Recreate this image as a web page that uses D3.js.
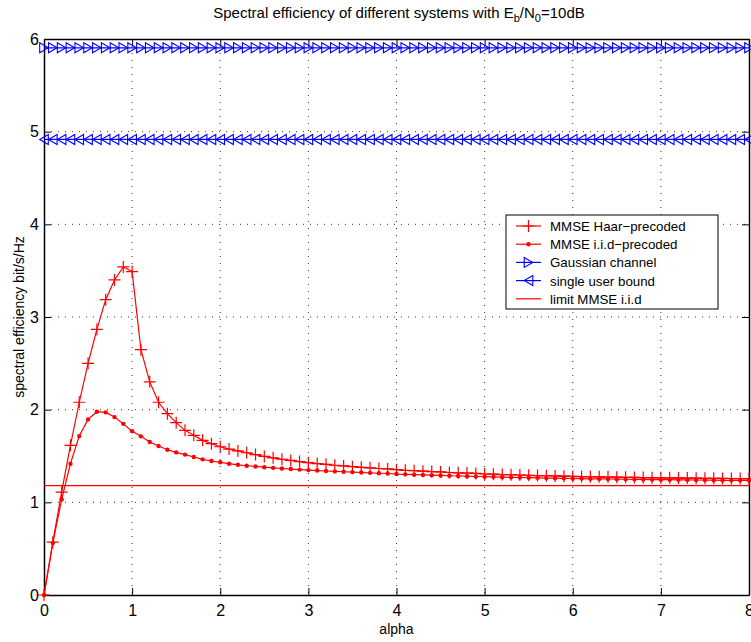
<!DOCTYPE html>
<html><head><meta charset="utf-8">
<script src="https://cdn.jsdelivr.net/npm/d3@7"></script>
<style>body{margin:0;background:#fff}svg{display:block}text{font-family:"Liberation Sans",Arial,sans-serif}</style>
</head><body>
<svg id="c" width="751" height="642"></svg>
<script>
const alpha = d3.range(81).map(i => +(i * 0.1).toFixed(1));
const haar = [0,0.57,1.11,1.615,2.08,2.50,2.866,3.187,3.40,3.54,3.49,2.647,2.30,2.08,1.957,1.86,1.777,1.723,1.669,1.633,
1.600,1.575,1.555,1.535,1.515,1.495,1.48,1.465,1.452,1.44,1.428,1.418,1.41,1.40,1.393,1.385,1.378,1.372,1.365,1.36,
1.352,1.345,1.342,1.336,1.332,1.328,1.322,1.318,1.316,1.312,1.306,1.304,1.30,1.298,1.295,1.292,1.289,1.287,1.285,1.282,
1.28,1.278,1.277,1.275,1.273,1.272,1.27,1.269,1.267,1.266,1.265,1.264,1.263,1.262,1.261,1.260,1.259,1.258,1.257,1.256,1.255];
const iid = [0,0.56,1.03,1.417,1.715,1.895,1.978,1.971,1.92,1.847,1.768,1.712,1.651,1.608,1.568,1.539,1.515,1.489,1.464,1.446,
1.432,1.417,1.405,1.395,1.387,1.379,1.372,1.365,1.359,1.353,1.348,1.343,1.338,1.334,1.330,1.326,1.322,1.318,1.314,1.311,
1.305,1.302,1.299,1.296,1.293,1.29,1.287,1.284,1.282,1.279,1.277,1.275,1.272,1.270,1.268,1.266,1.264,1.262,1.261,1.259,
1.257,1.256,1.254,1.253,1.252,1.250,1.249,1.248,1.247,1.246,1.245,1.244,1.243,1.242,1.241,1.240,1.239,1.238,1.238,1.237,1.237];
const gaussianValue = 5.905;
const singleUserValue = 4.916;
const limitValue = 1.18;
const xTicks = [0,1,2,3,4,5,6,7,8];
const yTicks = [0,1,2,3,4,5,6];
const legendLabels = ["MMSE Haar\u2212precoded","MMSE i.i.d\u2212precoded","Gaussian channel","single user bound","limit MMSE i.i.d"];

const svg = d3.select("#c");
const L = 44, R = 749, T = 39, B = 595;
const x = d3.scaleLinear().domain([0,8]).range([L,R]);
const y = d3.scaleLinear().domain([0,6]).range([B,T]);
const g = svg.append("g");

// grid
g.selectAll(".gx").data(xTicks.slice(1,-1)).enter().append("line")
 .attr("x1",d=>x(d)).attr("x2",d=>x(d)).attr("y1",T).attr("y2",B)
 .attr("stroke","#333").attr("stroke-width",1).attr("stroke-dasharray","1,6");
g.selectAll(".gy").data(yTicks.slice(1,-1)).enter().append("line")
 .attr("y1",d=>y(d)).attr("y2",d=>y(d)).attr("x1",L).attr("x2",R)
 .attr("stroke","#333").attr("stroke-width",1).attr("stroke-dasharray","1,6");

// axes
const fs = "16px";
const ax = svg.append("g").attr("transform",`translate(0,${B})`).call(d3.axisBottom(x).tickValues(xTicks).tickFormat(d3.format("d")).tickSizeInner(-7).tickSizeOuter(0).tickPadding(10));
const ay = svg.append("g").attr("transform",`translate(${L},0)`).call(d3.axisLeft(y).tickValues(yTicks).tickFormat(d3.format("d")).tickSizeInner(-7).tickSizeOuter(0).tickPadding(5));
const at = svg.append("g").attr("transform",`translate(0,${T})`).call(d3.axisTop(x).tickValues(xTicks).tickFormat("").tickSizeInner(-7).tickSizeOuter(0));
const ar = svg.append("g").attr("transform",`translate(${R},0)`).call(d3.axisRight(y).tickValues(yTicks).tickFormat("").tickSizeInner(-7).tickSizeOuter(0));
[ax,ay,at,ar].forEach(a=>{a.select(".domain").attr("stroke","#000").attr("stroke-width",1.5);a.selectAll("line").attr("stroke","#000");a.selectAll("text").style("font-size",fs).attr("fill","#000").style("font-family","'Liberation Sans',Arial,sans-serif");});

// lines
const line = d3.line().x((d,i)=>x(alpha[i])).y(d=>y(d));
const plot = svg.append("g");
plot.append("path").datum(haar).attr("d",line).attr("fill","none").attr("stroke","#ff0000").attr("stroke-width",1.2);
plot.append("path").datum(iid).attr("d",line).attr("fill","none").attr("stroke","#ff0000").attr("stroke-width",1.2);
plot.append("line").attr("x1",x(0)).attr("x2",x(8)).attr("y1",y(limitValue)).attr("y2",y(limitValue)).attr("stroke","#ff0000").attr("stroke-width",1.2);
const gaus = alpha.map(()=>gaussianValue), su = alpha.map(()=>singleUserValue);
plot.append("path").datum(gaus).attr("d",line).attr("fill","none").attr("stroke","#0000ff").attr("stroke-width",1.2);
plot.append("path").datum(su).attr("d",line).attr("fill","none").attr("stroke","#0000ff").attr("stroke-width",1.2);

function plus(sel, cx, cy, s){ sel.append("path").attr("d",`M${cx-s},${cy}H${cx+s}M${cx},${cy-s}V${cy+s}`).attr("stroke","#ff0000").attr("stroke-width",1.2).attr("fill","none"); }
function dot(sel, cx, cy){ sel.append("circle").attr("cx",cx).attr("cy",cy).attr("r",2.2).attr("fill","#ff0000"); }
function tri(sel, cx, cy, dir){ const w=4.3,h=5; const p = dir>0 ? `M${cx-w},${cy-h}L${cx+w},${cy}L${cx-w},${cy+h}Z` : `M${cx+w},${cy-h}L${cx-w},${cy}L${cx+w},${cy+h}Z`; sel.append("path").attr("d",p).attr("fill","none").attr("stroke","#0000ff").attr("stroke-width",1.1); }

haar.forEach((v,i)=>plus(plot,x(alpha[i]),y(v),6));
iid.forEach((v,i)=>dot(plot,x(alpha[i]),y(v)));
gaus.forEach((v,i)=>tri(plot,x(alpha[i]),y(v),1));
su.forEach((v,i)=>tri(plot,x(alpha[i]),y(v),-1));

// legend
const lg = svg.append("g");
lg.append("rect").attr("x",506).attr("y",215).attr("width",212).attr("height",94).attr("fill","#fff").attr("stroke","#000").attr("stroke-width",1);
legendLabels.forEach((t,i)=>{
  const yy = 226 + i*18.2, x1=516, x2=541, xm=(x1+x2)/2;
  const col = i>=2 && i<=3 ? "#0000ff" : "#ff0000";
  lg.append("line").attr("x1",x1).attr("x2",x2).attr("y1",yy).attr("y2",yy).attr("stroke",col).attr("stroke-width",1.2);
  if(i===0) plus(lg,xm,yy,6);
  if(i===1) dot(lg,xm,yy);
  if(i===2) tri(lg,xm,yy,1);
  if(i===3) tri(lg,xm,yy,-1);
  lg.append("text").attr("x",550).attr("y",yy+5).text(t).style("font-size","13.3px");
});

// title & labels
const title = svg.append("text").attr("x",399).attr("y",18).attr("text-anchor","middle").style("font-size","15px");
title.append("tspan").text("Spectral efficiency of different systems with E");
title.append("tspan").text("b").attr("dy",4).style("font-size","11px");
title.append("tspan").text("/N").attr("dy",-4);
title.append("tspan").text("0").attr("dy",4).style("font-size","11px");
title.append("tspan").text("=10dB").attr("dy",-4);
svg.append("text").attr("x",x(4)).attr("y",634).attr("text-anchor","middle").style("font-size","14px").text("alpha");
svg.append("text").attr("transform",`translate(24,${(T+B)/2}) rotate(-90)`).attr("text-anchor","middle").style("font-size","14px").text("spectral efficiency bit/s/Hz");
</script>
</body></html>
